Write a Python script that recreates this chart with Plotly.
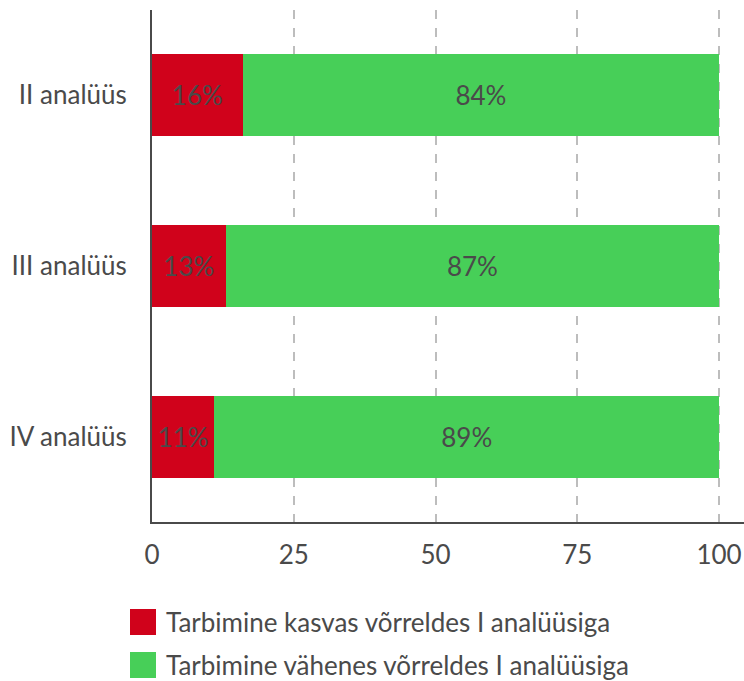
import plotly.graph_objects as go

categories = ["II analüüs", "III analüüs", "IV analüüs"]
increase = [16, 13, 11]
decrease = [84, 87, 89]
series_names = ["Tarbimine kasvas võrreldes I analüüsiga",
                "Tarbimine vähenes võrreldes I analüüsiga"]
colors = ["#d0021b", "#47cf58"]
x_ticks = [0, 25, 50, 75, 100]

W, H = 744, 681
ML, MR, MT, MB = 152, 0, 10, 159
PW, PH = W - ML - MR, H - MT - MB
FONT = "Lato, 'Open Sans', sans-serif"
TXT = "#4a4a4a"
FS = 26

fig = go.Figure()
for vals, name, col in zip([increase, decrease], series_names, colors):
    fig.add_trace(go.Bar(
        y=categories, x=vals, name=name, orientation="h",
        marker=dict(color=col, line=dict(width=0)),
        text=[f"{v}%" for v in vals], textposition="inside",
        insidetextanchor="middle", textangle=0,
        textfont=dict(family=FONT, size=FS, color=TXT),
        showlegend=False, hoverinfo="skip",
    ))

def px_to_paper(X, Y):
    return (X - ML) / PW, (H - MB - Y) / PH

shapes, annots = [], []
for i, (name, col) in enumerate(zip(series_names, colors)):
    cy = 622 + i * 43
    x0, y0 = px_to_paper(130, cy - 13)
    x1, y1 = px_to_paper(156, cy + 13)
    shapes.append(dict(type="rect", xref="paper", yref="paper",
                       x0=x0, x1=x1, y0=y1, y1=y0,
                       fillcolor=col, line=dict(width=0)))
    tx, ty = px_to_paper(164, cy)
    annots.append(dict(xref="paper", yref="paper", x=tx, y=ty,
                       xanchor="left", yanchor="middle", showarrow=False,
                       text=name, font=dict(family=FONT, size=FS, color=TXT)))

fig.update_layout(
    width=W, height=H,
    margin=dict(l=ML, r=MR, t=MT, b=MB),
    barmode="stack", bargap=0.52,
    plot_bgcolor="white", paper_bgcolor="white",
    font=dict(family=FONT, size=FS, color=TXT),
    uniformtext=dict(minsize=FS, mode="show"),
    showlegend=False,
    shapes=shapes, annotations=annots,
    xaxis=dict(range=[0, 104.4], tickvals=x_ticks,
               ticktext=[str(t) for t in x_ticks],
               showgrid=True, gridcolor="#bdbdbd", gridwidth=1.5, griddash="dash",
               zeroline=False, showline=True, linecolor="#4a4a4a", linewidth=2,
               ticks="", ticklabelstandoff=9,
               tickfont=dict(family=FONT, size=FS, color=TXT)),
    yaxis=dict(autorange="reversed", categoryorder="array",
               categoryarray=categories,
               showgrid=False, zeroline=False, showline=True,
               linecolor="#4a4a4a", linewidth=2, ticks="",
               ticklabelstandoff=18,
               tickfont=dict(family=FONT, size=FS, color=TXT)),
)

fig.write_html("out.html",
               config={"displayModeBar": False},
               post_script="document.body.style.margin='0';document.body.style.overflow='hidden';")
